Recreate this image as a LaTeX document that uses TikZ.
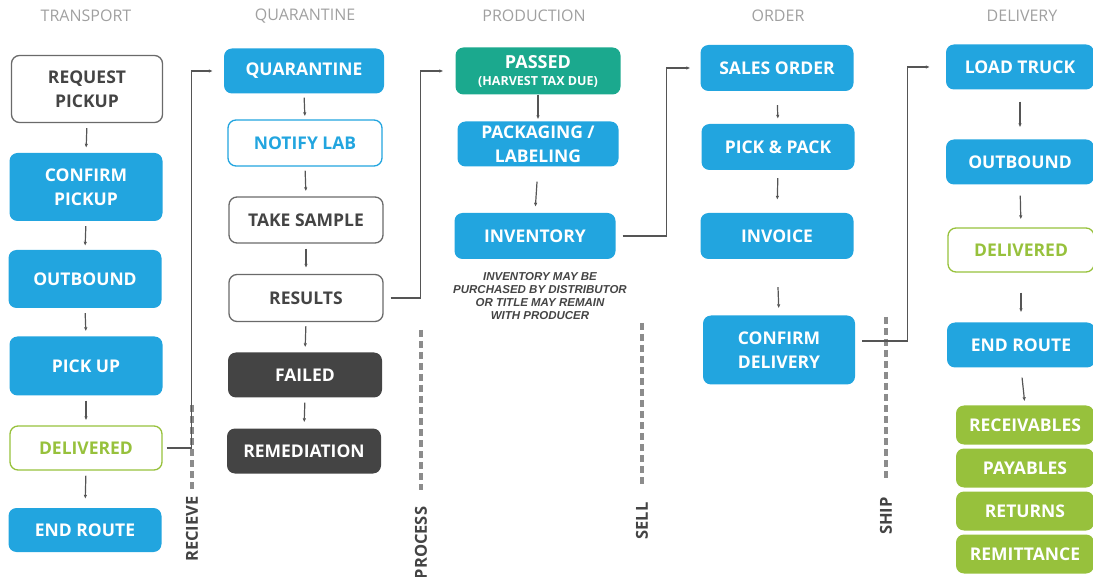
\documentclass[tikz,border=0pt]{standalone}
\usepackage{fontspec}
\setmainfont{Open Sans}
\newfontfamily\notefont{Liberation Sans}
\usetikzlibrary{arrows.meta}

\definecolor{cblue}{HTML}{22A5DF}
\definecolor{cteal}{HTML}{1BA98E}
\definecolor{cgreen}{HTML}{97C13C}
\definecolor{cdark}{HTML}{444444}
\definecolor{cline}{HTML}{555555}
\definecolor{cedge}{HTML}{6A6A6A}
\definecolor{chead}{HTML}{A0A0A0}
\definecolor{cdash}{HTML}{8C8C8C}

\tikzset{
  box/.style={rounded corners=8pt, minimum width=153pt, minimum height=46pt,
    inner sep=0pt, align=center, font=\bfseries\fontsize{17.5}{24}\selectfont},
  bluebox/.style={box, fill=cblue, text=white},
  tealbox/.style={box, fill=cteal, text=white},
  darkbox/.style={box, fill=cdark, text=white},
  greybox/.style={box, draw=cedge, line width=1.3pt, text=cdark},
  lightbox/.style={box, draw=cblue, line width=1.3pt, text=cblue},
  limebox/.style={box, draw=cgreen, line width=1.3pt, text=cgreen},
  tilebox/.style={box, fill=cgreen, text=white, minimum width=138pt, minimum height=39pt},
  flow/.style={->, >={Latex[length=4pt,width=3.5pt]}, draw=cline, line width=1.2pt},
  sepline/.style={draw=cdash, line width=3.5pt, dash pattern=on 7pt off 4pt},
  seplabel/.style={rotate=90, text=cdark, font=\bfseries\fontsize{16.5}{18}\selectfont},
  header/.style={text=chead, font=\fontsize{16}{18}\selectfont},
}

\begin{document}
\begin{tikzpicture}[x=1pt,y=-1pt]
	\useasboundingbox (0,0) rectangle (1093,577);

	% column titles
	\foreach \x/\t in {86/TRANSPORT,305/QUARANTINE,534/PRODUCTION,778/ORDER,1022/DELIVERY}
	    \node[header] (head-\t) at (\x,16) {\t};

	% transport
	\node[greybox,minimum width=151pt,minimum height=67pt] (req) at (87,89) {REQUEST\\PICKUP};
	\node[bluebox,minimum height=68pt] (conf) at (86,187) {CONFIRM\\PICKUP};
	\node[bluebox,minimum height=58pt] (out1) at (85,279) {OUTBOUND};
	\node[bluebox,minimum height=59pt] (pick) at (86,366) {PICK UP};
	\node[limebox,minimum width=152pt,minimum height=44pt] (del1) at (86,448) {DELIVERED};
	\node[bluebox,minimum height=44pt] (end1) at (85,530) {END ROUTE};

	% quarantine
	\node[bluebox,minimum width=160pt,minimum height=45pt] (quar) at (304,71) {QUARANTINE};
	\node[lightbox,minimum width=154pt] (notify) at (305,143) {NOTIFY LAB};
	\node[greybox,minimum width=154pt] (sample) at (306,220) {TAKE SAMPLE};
	\node[greybox,minimum width=154pt,minimum height=47pt] (results) at (306,298) {RESULTS};
	\node[darkbox,minimum width=154pt,minimum height=45pt] (failed) at (305,375) {FAILED};
	\node[darkbox,minimum width=154pt,minimum height=45pt] (remed) at (304,451) {REMEDIATION};

	% production
	\node[tealbox,minimum width=165pt,minimum height=47pt,font=\bfseries\fontsize{18}{20}\selectfont]
	    (passed) at (538,71) {PASSED\\[-3pt]{\fontsize{12.5}{14}\selectfont (HARVEST TAX DUE)}};
	\node[bluebox,minimum width=161pt,minimum height=45pt] (pack) at (538,144) {PACKAGING /\\LABELING};
	\node[bluebox,minimum width=161pt] (inv) at (535,236) {INVENTORY};
	\node[text=cdark,align=center,font=\notefont\bfseries\itshape\fontsize{11.5}{13.3}\selectfont]
	    (invnote) at (540,296) {INVENTORY MAY BE\\PURCHASED BY DISTRIBUTOR\\OR TITLE MAY REMAIN\\WITH PRODUCER};

	% order
	\node[bluebox] (sales) at (777,68) {SALES ORDER};
	\node[bluebox] (pickpack) at (778,147) {PICK \& PACK};
	\node[bluebox] (invoice) at (777,236) {INVOICE};
	\node[bluebox,minimum width=152pt,minimum height=69pt] (confdel) at (779,350) {CONFIRM\\DELIVERY};

	% delivery
	\node[bluebox,minimum width=148pt,minimum height=45pt] (load) at (1020,67) {LOAD TRUCK};
	\node[bluebox,minimum width=148pt,minimum height=45pt] (out5) at (1020,162) {OUTBOUND};
	\node[limebox,minimum width=146pt,minimum height=44pt] (del5) at (1021,250) {DELIVERED};
	\node[bluebox,minimum width=148pt,minimum height=45pt] (end5) at (1021,345) {END ROUTE};
	\node[tilebox] (recv) at (1025,425) {RECEIVABLES};
	\node[tilebox] (pay) at (1025,468) {PAYABLES};
	\node[tilebox] (ret) at (1025,511) {RETURNS};
	\node[tilebox] (remit) at (1025,554) {REMITTANCE};

	% stage separators
	\foreach \x/\t/\ya/\yb/\yl in {192/RECIEVE/405/490/529,421/PROCESS/330/490/543,642/SELL/323/485/521,886/SHIP/317/480/516}{
	    \draw[sepline] (\x,\ya) -- (\x,\yb);
	    \node[seplabel] (lbl-\t) at (\x,\yl) {\t};
	}

	% steps inside a column
	\foreach \a/\b/\s/\e in {req/conf/5/5,conf/out1/5/4,out1/pick/5/5,pick/del1/5/5,del1/end1/5/9,
	    quar/notify/4/3,notify/sample/4/5,sample/results/5/6,results/failed/4/5,failed/remed/5/6,
	    passed/pack/0/2,pack/inv/15/6,
	    sales/pickpack/14/5,pickpack/invoice/8/13,invoice/confdel/28/7,
	    load/out5/12/12,out5/del5/11/8,del5/end5/20/10,end5/recv/10/4}
	    \draw[flow,shorten <=\s pt,shorten >=\e pt] (\a.south) -- (\b.north);

	% hand-over to the next column
	\draw[flow,shorten <=4pt,shorten >=11pt] (del1.east) -- ++(29,0) |- (quar.west);
	\draw[flow,shorten <=7pt,shorten >=12pt] (results.east) -- ++(37,0) |- (passed.west);
	\draw[flow,shorten <=7pt,shorten >=10pt] (inv.east) -- ++(51,0) |- (sales.west);
	\draw[flow,shorten <=7pt,shorten >=16pt] ([yshift=9pt]confdel.east) -- ++(52,0) |- (load.west);
\end{tikzpicture}
\end{document}
